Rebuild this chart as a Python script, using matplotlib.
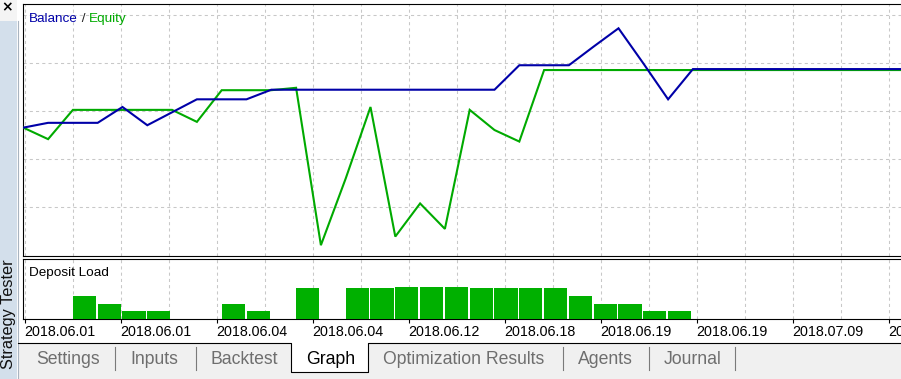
import matplotlib
matplotlib.use('Agg')
import matplotlib.pyplot as plt
from matplotlib.patches import Rectangle
from matplotlib.lines import Line2D

plt.rcParams['font.family'] = ['Liberation Sans', 'DejaVu Sans']

# trade index (x) and curves (arbitrary account units)
trades = [0, 1, 2, 3, 4, 5, 6, 7, 8, 9, 10, 11, 12, 13, 14, 15, 16, 17, 18,
          19, 20, 21, 22, 23, 24, 25, 26, 27, 36]
balance = [266, 276, 276, 276, 309, 271, 298, 325, 325, 325, 345, 345, 345,
           345, 345, 345, 345, 345, 345, 345, 396, 396, 396, 435, 473, 400,
           325, 388, 388]
equity = [266, 242, 303, 303, 303, 303, 303, 278, 344, 344, 344, 349, 21,
          160, 309, 39, 108, 55, 303, 261, 237, 386, 386, 386, 386, 386,
          386, 386, 386]

# deposit load (%) per trade slot
load_idx = [2, 3, 4, 5, 8, 9, 11, 13, 14, 15, 16, 17, 18, 19, 20, 21, 22,
            23, 24, 25, 26]
load_pct = [38, 25, 12, 12, 25, 12, 51, 51, 51, 53, 53, 53, 51, 51, 51, 51,
            38, 25, 25, 12, 12]

date_labels = ['2018.06.01', '2018.06.01', '2018.06.04', '2018.06.04',
               '2018.06.12', '2018.06.18', '2018.06.19', '2018.06.19',
               '2018.07.09', '2018.07.09']
tabs = ['Settings', 'Inputs', 'Backtest', 'Graph', 'Optimization Results',
        'Agents', 'Journal']

W, H = 901, 379
BLUE = '#0000a8'
GREEN = '#00aa00'
BAR = '#00b000'
GRID = '#c8c8c8'


def fr(x0, y0, x1, y1):
    return [x0 / W, 1 - y1 / H, (x1 - x0) / W, (y1 - y0) / H]


def fx(x):
    return x / W


def fy(y):
    return 1 - y / H


fig = plt.figure(figsize=(W / 100, H / 100), dpi=100, facecolor='white')

# window chrome: side strip, tab bar
fig.add_artist(Rectangle((0, fy(379)), fx(17), (379 - 20.5) / H,
                         transform=fig.transFigure, color='#d3dfeb', lw=0))
fig.add_artist(Rectangle((0, fy(20.5)), fx(17), 20.5 / H,
                         transform=fig.transFigure, color='#f4f4f4', lw=0))
fig.add_artist(Line2D([fx(17.6), fx(17.6)], [fy(20.5), fy(379)],
                      transform=fig.transFigure, color='#a9b4c0', lw=0.8))
fig.text(fx(7), fy(7), '\u00d7', fontsize=10, fontweight='bold',
         ha='center', va='center', family='DejaVu Sans')
fig.text(fx(8.5), fy(314), 'Strategy Tester', rotation=90, fontsize=11.8,
         ha='center', va='center', color='#111111')

fig.add_artist(Rectangle((fx(18.2), fy(379)), fx(W - 18.2), (379 - 342.5) / H,
                         transform=fig.transFigure, color='#f0f0f0', lw=0))
tab_x = [36, 130.7, 210.7, 305.7, 383.3, 577.7, 663.3]
sep_x = [115.3, 195.7, 562.7, 648.7, 735]
g0, g1 = 290.7, 368
fig.add_artist(Rectangle((fx(g0), fy(371.7)), fx(g1 - g0), (371.7 - 342.5) / H,
                         transform=fig.transFigure, facecolor='white',
                         edgecolor='none'))
edge_x = [18.2, g0, g0, g1, g1, W]
edge_y = [342.5, 342.5, 371.7, 371.7, 342.5, 342.5]
fig.add_artist(Line2D([fx(v) for v in edge_x], [fy(v) for v in edge_y],
                      transform=fig.transFigure, color='black', lw=0.8))
for sx in sep_x:
    fig.add_artist(Line2D([fx(sx), fx(sx)], [fy(347), fy(370)],
                          transform=fig.transFigure, color='#7a7a7a', lw=0.8))
for name, tx in zip(tabs, tab_x):
    fig.text(fx(tx), fy(364.3), name, fontsize=12.7, va='baseline', ha='left',
             color='black' if name == 'Graph' else '#6e6e6e')

# x mapping: one trade = 24.8 px, first point on the left border
step = 24.8
left_px, right_px = 23.3, 903
xmax = (right_px - left_px) / step
grid_pos = [(24.7 + 48 * j - left_px) / step for j in range(19)]

# main balance / equity panel
ax = fig.add_axes(fr(left_px, 4.3, right_px, 256))
ax.plot(trades, equity, color=GREEN, lw=1.5, solid_joinstyle='miter', zorder=3)
ax.plot(trades, balance, color=BLUE, lw=1.5, solid_joinstyle='miter', zorder=4)
ax.set_xlim(0, xmax)
ax.set_ylim(-1.5, 523)
ax.set_yticks([100, 200, 300, 400, 500])
ax.set_xticks(grid_pos)
ax.tick_params(length=0, labelbottom=False, labelleft=False)
ax.grid(True, ls=(0, (3, 3)), color=GRID, lw=0.75)
for s in ['top', 'left', 'bottom']:
    ax.spines[s].set_linewidth(0.8)
ax.spines['right'].set_visible(False)

t = ax.text(29.3 / W, fy(21.7), 'Balance', transform=fig.transFigure,
            color=BLUE, fontsize=9.7, va='baseline')
t2 = ax.annotate(' / ', xy=(1, 0), xycoords=t, color='#222222',
                 fontsize=9.7, va='bottom')
ax.annotate('Equity', xy=(1, 0), xycoords=t2, color=GREEN, fontsize=9.7,
            va='bottom')

# deposit load panel
ax2 = fig.add_axes(fr(left_px, 258.5, right_px, 318.7))
ax2.bar(load_idx, load_pct, width=0.93, align='edge', color=BAR, lw=0,
        zorder=3)
ax2.set_xlim(0, xmax)
ax2.set_ylim(0, 100)
ax2.set_yticks([])
ax2.set_xticks(grid_pos[0::2])
ax2.set_xticks(grid_pos[1::2], minor=True)
ax2.set_xticklabels(date_labels, fontsize=10.3, ha='left')
ax2.tick_params(axis='x', which='major', direction='out', length=3,
                width=0.8, pad=1.2)
ax2.tick_params(axis='x', which='minor', length=0)
ax2.grid(True, axis='x', which='both', ls=(0, (3, 3)), color=GRID, lw=0.75)
for s in ['top', 'left', 'bottom']:
    ax2.spines[s].set_linewidth(0.8)
ax2.spines['right'].set_visible(False)
ax2.text(29.3 / W, fy(275.6), 'Deposit Load', transform=fig.transFigure,
         fontsize=9.7, va='baseline')

fig.savefig('out.png', dpi=100)
